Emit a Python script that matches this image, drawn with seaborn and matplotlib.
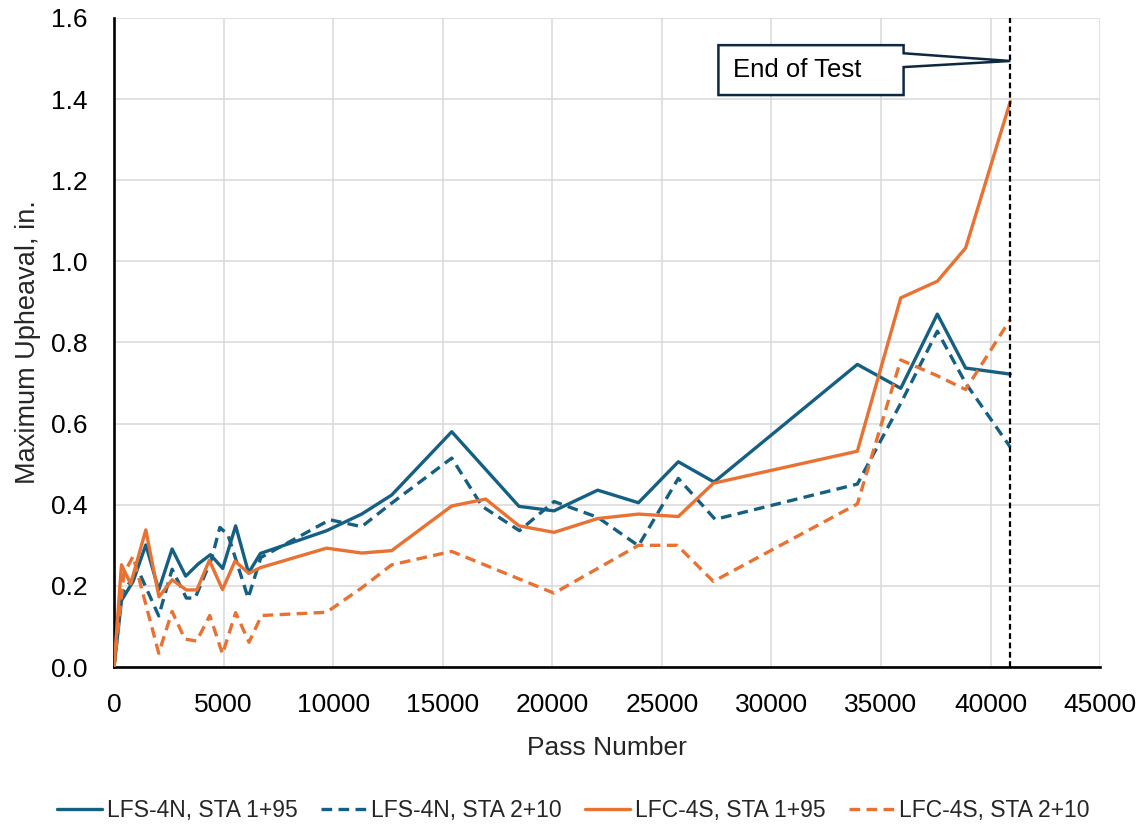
import matplotlib
matplotlib.use("Agg")
import matplotlib.pyplot as plt
from matplotlib.patches import Polygon
import numpy as np
import pandas as pd
import seaborn as sns

# ---- data -----------------------------------------------------------------
series_names = ["LFS-4N, STA 1+95", "LFS-4N, STA 2+10",
                "LFC-4S, STA 1+95", "LFC-4S, STA 2+10"]

lfs_195_pass = [0, 340, 870, 1450, 2040, 2650, 3270, 3840, 4400, 4960, 5550,
                6140, 6680, 9700, 11300, 12670, 15410, 18480, 20080, 22070,
                23930, 25750, 27380, 33920, 35900, 37570, 38860, 40900]
lfs_195_upheaval = [0.0, 0.164, 0.211, 0.301, 0.190, 0.291, 0.224, 0.254,
                    0.277, 0.243, 0.348, 0.232, 0.280, 0.336, 0.377, 0.424,
                    0.580, 0.396, 0.385, 0.436, 0.405, 0.506, 0.456, 0.746,
                    0.687, 0.870, 0.737, 0.722]

lfs_210_pass = [0, 340, 870, 1200, 2040, 2650, 3300, 3700, 4440, 4830, 5200,
                6120, 6700, 9850, 11300, 12670, 15410, 16800, 18500, 20080,
                22070, 23930, 25750, 27430, 33920, 35900, 37570, 38860, 40900]
lfs_210_upheaval = [0.0, 0.180, 0.220, 0.227, 0.126, 0.241, 0.170, 0.170,
                    0.265, 0.344, 0.326, 0.170, 0.270, 0.363, 0.346, 0.404,
                    0.515, 0.396, 0.336, 0.408, 0.369, 0.299, 0.465, 0.364,
                    0.451, 0.650, 0.828, 0.700, 0.542]

lfc_195_pass = [0, 340, 760, 1450, 2050, 2650, 3300, 3780, 4350, 4950, 5520,
                6150, 6680, 9700, 11300, 12670, 15410, 16960, 18480, 20080,
                22070, 23930, 25750, 27350, 33920, 35900, 37570, 38860, 40900]
lfc_195_upheaval = [0.0, 0.252, 0.205, 0.338, 0.173, 0.215, 0.190, 0.190,
                    0.263, 0.191, 0.261, 0.231, 0.245, 0.293, 0.281, 0.287,
                    0.397, 0.414, 0.348, 0.332, 0.366, 0.377, 0.371, 0.453,
                    0.532, 0.910, 0.951, 1.033, 1.394]

lfc_210_pass = [0, 450, 870, 2040, 2650, 3230, 3770, 4370, 4950, 5550, 6160,
                6730, 9700, 11300, 12670, 15410, 20080, 23930, 25700, 27350,
                33920, 35900, 37570, 38860, 40900]
lfc_210_upheaval = [0.0, 0.230, 0.273, 0.034, 0.137, 0.069, 0.064, 0.127,
                    0.032, 0.134, 0.061, 0.127, 0.135, 0.195, 0.252, 0.285,
                    0.182, 0.300, 0.300, 0.211, 0.402, 0.757, 0.718, 0.684,
                    0.857]

end_of_test_pass = 40900
end_label = "End of Test"

x_ticks = [0, 5000, 10000, 15000, 20000, 25000, 30000, 35000, 40000, 45000]
y_ticks = [0.0, 0.2, 0.4, 0.6, 0.8, 1.0, 1.2, 1.4, 1.6]

# ---- long-form table for seaborn -------------------------------------------
frames = []
for name, xs, ys in zip(series_names,
                        [lfs_195_pass, lfs_210_pass, lfc_195_pass, lfc_210_pass],
                        [lfs_195_upheaval, lfs_210_upheaval,
                         lfc_195_upheaval, lfc_210_upheaval]):
    frames.append(pd.DataFrame({"Pass": xs, "Upheaval": ys, "Series": name}))
df = pd.concat(frames, ignore_index=True)

BLUE = "#156082"
ORANGE = "#E97132"
palette = {series_names[0]: BLUE, series_names[1]: BLUE,
           series_names[2]: ORANGE, series_names[3]: ORANGE}
dashes = {series_names[0]: "", series_names[1]: (3.2, 1.9),
          series_names[2]: "", series_names[3]: (3.2, 1.9)}

# ---- figure ----------------------------------------------------------------
sns.set_theme(style="white")
plt.rcParams["font.family"] = ["Liberation Sans", "DejaVu Sans"]

fig = plt.figure(figsize=(11.46, 8.25), dpi=100)
ax = fig.add_axes([0.0995, 0.1915, 0.8605, 0.7867])

sns.lineplot(data=df, x="Pass", y="Upheaval", hue="Series", style="Series",
             palette=palette, dashes=dashes, hue_order=series_names,
             style_order=series_names, estimator=None, sort=True,
             linewidth=2.4, ax=ax, legend=True, zorder=3)

# end-of-test marker
ax.axvline(end_of_test_pass, color="black", linewidth=1.6,
           linestyle=(0, (2.6, 1.6)), zorder=4)

# callout box with pointer to the end-of-test line
bx0, bx1, by0, by1 = 27580, 36030, 1.410, 1.533
tip = (end_of_test_pass, 1.494)
callout = Polygon([(bx0, by0), (bx0, by1), (bx1, by1), (bx1, 1.513), tip,
                   (bx1, 1.479), (bx1, by0)], closed=True,
                  facecolor="white", edgecolor="#0E2841", linewidth=1.8,
                  zorder=5)
ax.add_patch(callout)
ax.text(28250, (by0 + by1) / 2, end_label, fontsize=18.5, ha="left",
        va="center", color="black", zorder=6)

# axes styling
ax.set_xlim(0, 45000)
ax.set_ylim(0, 1.6)
ax.set_xticks(x_ticks)
ax.set_xticklabels([f"{t:d}" for t in x_ticks])
ax.set_yticks(y_ticks)
ax.set_yticklabels([f"{t:.1f}" for t in y_ticks])
ax.grid(True, color="#d9d9d9", linewidth=1.1, zorder=0)
ax.set_axisbelow(True)
for side in ["top", "right"]:
    ax.spines[side].set_visible(False)
for side in ["left", "bottom"]:
    ax.spines[side].set_color("black")
    ax.spines[side].set_linewidth(1.9)
ax.tick_params(axis="both", direction="in", length=5.5, width=1.9,
               colors="black", labelsize=19)
ax.tick_params(axis="y", pad=19)
ax.tick_params(axis="x", pad=19)

ax.set_xlabel("Pass Number", fontsize=19, color="#262626")
ax.set_ylabel("Maximum Upheaval, in.", fontsize=19.5, color="#262626")
ax.xaxis.set_label_coords(0.5, -0.107)
ax.yaxis.set_label_coords(-0.074, 0.5)

# legend along the bottom edge
handles, labels = ax.get_legend_handles_labels()
ax.get_legend().remove()
fig.legend(handles, labels, loc="center", bbox_to_anchor=(0.5, 0.018),
           ncol=4, frameon=False, fontsize=16.5, handlelength=2.0,
           handletextpad=0.2, columnspacing=1.0)

fig.savefig("out.png", dpi=100, facecolor="white")
